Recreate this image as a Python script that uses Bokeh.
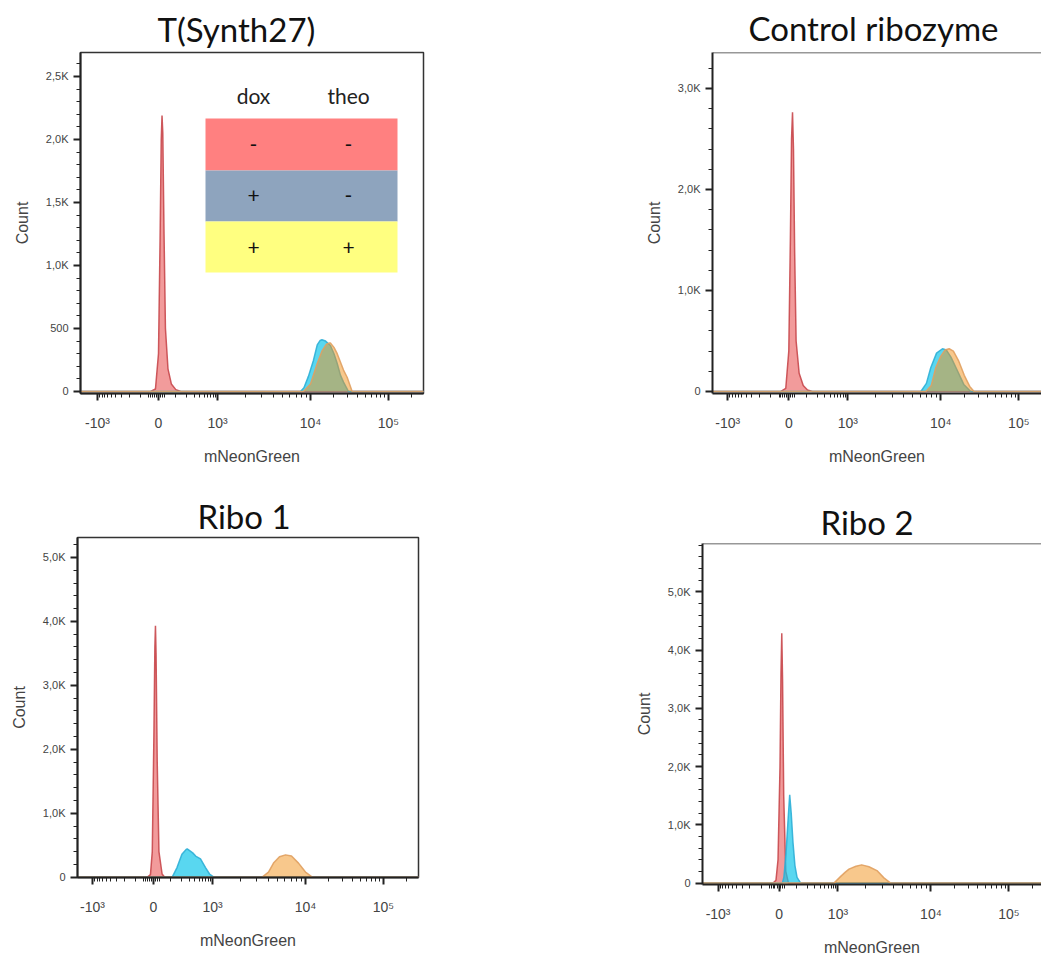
import numpy as np
from bokeh.plotting import figure
from bokeh.models import FixedTicker, Label, Range1d, Span
from bokeh.layouts import column, row
from bokeh.embed import file_html
from bokeh.resources import INLINE

# ---------------- data ----------------
panel_titles = ["T(Synth27)", "Control ribozyme", "Ribo 1", "Ribo 2"]
x_axis_label = "mNeonGreen"
y_axis_label = "Count"

x_tick_values = [-1000, 0, 1000, 10000, 100000]
x_tick_labels = ["-10\u00b3", "0", "10\u00b3", "10\u2074", "10\u2075"]
x_minor_values = ([-900, -800, -700, -600, -500, -400, -300, -200, -100,
                   -50, -40, -30, -20, -10, 10, 20, 30,
                   100, 200, 300, 400, 500, 600, 700, 800, 900]
                  + [k * 1000 for k in range(2, 10)]
                  + [k * 10000 for k in range(2, 10)]
                  + [200000])

# T(Synth27)
t27_red_x = [-40, -15, 0, 8, 14, 18, 22, 28, 36, 50, 70, 100, 140]
t27_red_y = [0, 20, 300, 1200, 2000, 2190, 2050, 1300, 500, 180, 60, 15, 0]
t27_cyan_x = [7800, 8500, 9500, 10900, 12200, 13300, 14000, 15600, 18000, 20000, 22000, 24200, 26500, 30700]
t27_cyan_y = [0, 30, 120, 246, 370, 405, 410, 400, 365, 300, 222, 130, 74, 0]
t27_orange_x = [8400, 10000, 12200, 14000, 16000, 17300, 18000, 20000, 22000, 26500, 29500, 34200]
t27_orange_y = [0, 60, 222, 320, 375, 384, 384, 350, 300, 170, 113, 0]

# Control ribozyme
ctl_red_x = [-40, -15, 0, 8, 14, 19, 24, 30, 38, 55, 80, 110, 150]
ctl_red_y = [0, 30, 400, 1500, 2500, 2765, 2400, 1400, 500, 180, 60, 15, 0]
ctl_cyan_x = [6100, 7000, 7810, 9000, 10500, 11800, 13500, 16000, 19700, 24200]
ctl_cyan_y = [0, 80, 238, 380, 423, 410, 340, 220, 70, 0]
ctl_orange_x = [6900, 7900, 8840, 10000, 11300, 12800, 14500, 17000, 20000, 23500, 26700]
ctl_orange_y = [0, 60, 238, 350, 410, 423, 400, 300, 160, 50, 0]

# Ribo 1
r1_red_x = [-30, -15, -6, 2, 7, 10, 13, 19, 28, 45, 60]
r1_red_y = [0, 40, 400, 2200, 3600, 3930, 3500, 1800, 400, 50, 0]
r1_cyan_x = [110, 150, 200, 250, 268, 300, 360, 420, 540, 700, 860, 1030]
r1_cyan_y = [0, 150, 360, 430, 443, 420, 380, 330, 287, 150, 50, 0]
r1_orange_x = [3420, 4000, 4530, 5250, 6100, 7070, 8410, 10000, 12200]
r1_orange_y = [0, 80, 220, 320, 349, 330, 220, 80, 0]

# Ribo 2
r2_red_x = [-30, -15, -5, 5, 10, 14, 18, 24, 35, 50]
r2_red_y = [0, 50, 400, 2000, 3600, 4290, 3500, 1500, 200, 0]
r2_cyan_x = [17, 25, 36, 48, 57, 66, 77, 90, 105, 134]
r2_cyan_y = [0, 100, 500, 1100, 1515, 1200, 700, 300, 100, 0]
r2_orange_x = [815, 1077, 1200, 1313, 1561, 1798, 2154, 2627, 3123, 3687]
r2_orange_y = [0, 120, 188, 240, 290, 313, 280, 215, 90, 0]

# y ticks per panel
t27_y_major = [0, 500, 1000, 1500, 2000, 2500]
t27_y_labels = ["0", "500", "1,0K", "1,5K", "2,0K", "2,5K"]
ctl_y_major = [0, 1000, 2000, 3000]
ctl_y_labels = ["0", "1,0K", "2,0K", "3,0K"]
r_y_major = [0, 1000, 2000, 3000, 4000, 5000]
r_y_labels = ["0", "1,0K", "2,0K", "3,0K", "4,0K", "5,0K"]

# legend table (T(Synth27))
legend_header = ["dox", "theo"]
legend_rows = [["-", "-"], ["+", "-"], ["+", "+"]]
legend_colors = ["#FF8080", "#8EA4BE", "#FFFF80"]

# ---------------- styling ----------------
RED = ("#EE7A7A", 0.75, "#C8484C")
CYAN = ("#13C6E9", 0.7, "#2FAFD6")
ORANGE = ("#F1911A", 0.5, "#E0A060")
AX = "#222222"
TICK_LBL = "#444444"


def disp(v):
    """biexponential-like display transform (FlowJo style axis)"""
    v = np.asarray(v, dtype=float)
    a = np.abs(v)
    lin = 59.0 * np.arcsinh(a / 100.0) / np.arcsinh(10.0)
    hi = np.interp(np.log10(np.maximum(a, 1000.0)), [3, 4, 5, 6], [59, 152, 230, 308])
    r = np.where(a <= 1000, lin, hi)
    return np.round(np.sign(v) * r * np.where(v < 0, 61.0 / 59.0, 1.0), 4)


def make_panel(title, series, y_major, y_labels, y_minor_step, y_range, x_range,
               width, height, mb, title_offset, title_standoff, left_panel):
    p = figure(width=width, height=height, output_backend="svg", toolbar_location=None,
               x_range=Range1d(*x_range), y_range=Range1d(*y_range),
               min_border_left=mb[0], min_border_right=mb[1],
               min_border_top=mb[2], min_border_bottom=mb[3],
               background_fill_color="white", border_fill_color="white")
    p.xgrid.visible = False
    p.ygrid.visible = False

    xt = disp(x_tick_values)
    p.xaxis.ticker = FixedTicker(ticks=list(xt), minor_ticks=list(disp(x_minor_values)))
    p.xaxis.major_label_overrides = {float(t): l for t, l in zip(xt, x_tick_labels)}
    p.yaxis.ticker = FixedTicker(ticks=y_major,
                                 minor_ticks=list(range(0, int(y_range[1]) + 1, y_minor_step)))
    p.yaxis.major_label_overrides = {t: l for t, l in zip(y_major, y_labels)}
    p.xaxis.axis_label = x_axis_label
    p.yaxis.axis_label = y_axis_label

    for ax in (p.xaxis[0], p.yaxis[0]):
        ax.axis_line_color = AX
        ax.axis_line_width = 2
        ax.major_tick_line_color = AX
        ax.major_tick_line_width = 2
        ax.minor_tick_line_color = AX
        ax.minor_tick_line_width = 1
        ax.major_tick_in = 0
        ax.minor_tick_in = 0
        ax.major_tick_out = 7
        ax.minor_tick_out = 4
        ax.major_label_text_font = "Liberation Sans"
        ax.major_label_text_color = TICK_LBL
        ax.axis_label_text_font = "Liberation Sans"
        ax.axis_label_text_font_style = "normal"
        ax.axis_label_text_color = "#444444"
        ax.axis_label_text_font_size = "16px"
    p.xaxis.major_label_text_font_size = "14px"
    p.yaxis.major_label_text_font_size = "11px"
    p.xaxis.major_label_standoff = 14
    p.yaxis.major_label_standoff = 5
    p.xaxis.axis_label_standoff = 14
    p.yaxis.axis_label_standoff = 12

    if left_panel:
        p.outline_line_color = "#333333"
        p.outline_line_width = 1.5
    else:
        p.outline_line_color = None
        p.add_layout(Span(location=y_range[1], dimension="width",
                          line_color="#333333", line_width=1.5))

    p.title.text = title
    p.title.align = "left"
    p.title.offset = title_offset
    p.title.standoff = title_standoff
    p.title.text_font = "Lato"
    p.title.text_font_size = "33px"
    p.title.text_font_style = "normal"
    p.title.text_color = "#111111"

    for xs, ys, style in series:
        X = disp(np.concatenate([[-5000.0], xs, [500000.0]]))
        Y = np.concatenate([[0.0], ys, [0.0]])
        fill, alpha, line = style
        p.varea(x=X, y1=np.zeros_like(Y), y2=Y, fill_color=fill, fill_alpha=alpha)
        p.line(X, Y, line_color=line, line_width=1.5, line_alpha=0.9)
    return p


p1 = make_panel(panel_titles[0],
                [(t27_red_x, t27_red_y, RED), (t27_cyan_x, t27_cyan_y, CYAN),
                 (t27_orange_x, t27_orange_y, ORANGE)],
                t27_y_major, t27_y_labels, 100, (-16, 2690), (-78, 265),
                600, 480, (80, 177, 52, 87), 77, 8, True)

p2 = make_panel(panel_titles[1],
                [(ctl_red_x, ctl_red_y, RED), (ctl_cyan_x, ctl_cyan_y, CYAN),
                 (ctl_orange_x, ctl_orange_y, ORANGE)],
                ctl_y_major, ctl_y_labels, 200, (-20, 3356), (-76.3, 252.7),
                441, 480, (112, 0, 52, 87), 36, 10, False)

p3 = make_panel(panel_titles[2],
                [(r1_red_x, r1_red_y, RED), (r1_cyan_x, r1_cyan_y, CYAN),
                 (r1_orange_x, r1_orange_y, ORANGE)],
                r_y_major, r_y_labels, 200, (-5, 5312), (-76, 265),
                600, 478, (77, 182, 57, 81), 120, 4, True)

p4 = make_panel(panel_titles[3],
                [(r2_red_x, r2_red_y, RED), (r2_cyan_x, r2_cyan_y, CYAN),
                 (r2_orange_x, r2_orange_y, ORANGE)],
                r_y_major, r_y_labels, 200, (-24, 5829), (-76.6, 262.7),
                441, 478, (102, 0, 63, 72), 118, 4, False)

# legend table inside T(Synth27) panel (positions in display/count units)
tbl_left, tbl_right = 47, 239
row_edges = [2167, 1754, 1349, 944]
col_centers = [95, 190]
p1.quad(left=[tbl_left] * 3, right=[tbl_right] * 3,
        top=row_edges[:-1], bottom=row_edges[1:],
        fill_color=legend_colors, line_color=None)
for cx, h in zip(col_centers, legend_header):
    p1.add_layout(Label(x=cx, y=2349, text=h, text_align="center", text_baseline="middle",
                        text_font="Lato", text_font_size="21px", text_color="#222222"))
for i, r in enumerate(legend_rows):
    cy = (row_edges[i] + row_edges[i + 1]) / 2
    for cx, s in zip(col_centers, r):
        p1.add_layout(Label(x=cx, y=cy, text=s, text_align="center", text_baseline="middle",
                            text_font="Lato", text_font_size="21px", text_color="#111111"))

layout = column(row(column(p1), column(p2)), row(column(p3), column(p4)))
open("out.html", "w").write(file_html(layout, INLINE))
